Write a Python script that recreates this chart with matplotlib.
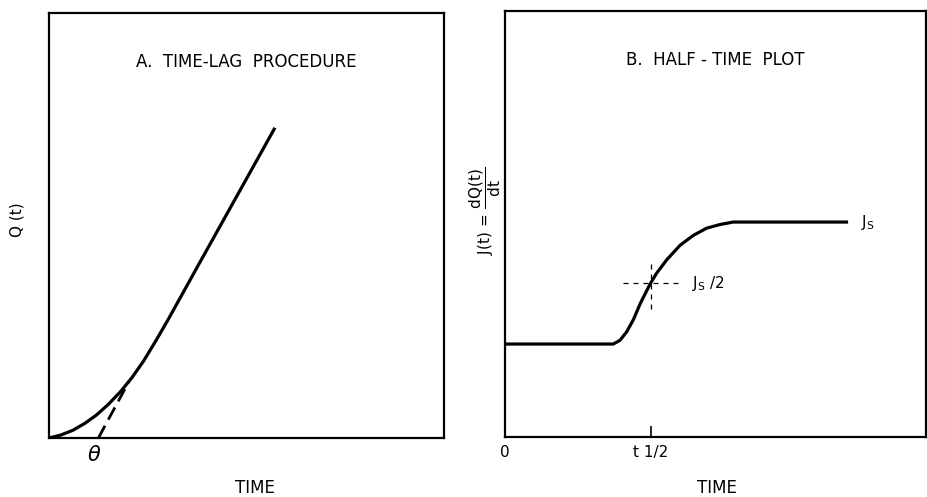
import matplotlib.pyplot as plt

plt.rcParams['font.family'] = 'DejaVu Sans'
plt.rcParams['mathtext.fontset'] = 'dejavusans'

# A. time-lag: cumulative amount Q(t) against time
lag_t = [0.0, 0.3, 0.6, 0.9, 1.2, 1.5, 1.8, 2.1, 2.4, 2.7, 3.0, 3.8, 4.7, 5.72]
lag_q = [0.0, 0.07, 0.18, 0.34, 0.54, 0.79, 1.08, 1.42, 1.82, 2.28, 2.76, 4.10, 5.60, 7.30]
theta = 1.25
tangent_t = [theta, 2.03]
tangent_q = [0.0, 1.34]

# B. half-time: flux J(t) against time, baseline 0, steady state Js = 1
flux_t = [0.0, 2.57, 2.73, 2.89, 3.05, 3.21, 3.37, 3.46, 3.60, 3.84, 4.16, 4.47, 4.79, 5.11, 5.42, 8.15]
flux_j = [0.0, 0.0, 0.03, 0.10, 0.20, 0.33, 0.44, 0.50, 0.58, 0.69, 0.81, 0.89, 0.95, 0.98, 1.0, 1.0]
js = 1.0
t_half = 3.46

fig = plt.figure(figsize=(9.27, 4.97), dpi=100)
W, H = 927, 497


def px_axes(left, top, right, bottom):
    return fig.add_axes([left / W, 1 - bottom / H, (right - left) / W, (bottom - top) / H])


def style(ax):
    for s in ax.spines.values():
        s.set_linewidth(1.6)
    ax.set_xticks([])
    ax.set_yticks([])


# ---- panel A
axA = px_axes(49, 13, 444, 438)
style(axA)
axA.set_xlim(0, 10)
axA.set_ylim(0, 10)
axA.plot(lag_t, lag_q, color='black', lw=2.3, solid_capstyle='butt', solid_joinstyle='round')
axA.plot(tangent_t, tangent_q, color='black', lw=2.0, dashes=(5, 2.5))
axA.text(5.0, 8.85, 'A.  TIME-LAG  PROCEDURE', ha='center', va='center', fontsize=12)
axA.text(theta - 0.1, -0.4, r'$\theta$', ha='center', va='center', fontsize=15,
         clip_on=False)
fig.text(17 / W, 1 - 220 / H, 'Q (t)', rotation=90, ha='center', va='center', fontsize=11)
fig.text(255 / W, 1 - 488 / H, 'TIME', ha='center', va='center', fontsize=12)

# ---- panel B
axB = px_axes(505, 11, 926, 437)
style(axB)
axB.set_xlim(0, 10)
axB.set_ylim(-0.762, 2.73)
axB.plot(flux_t, flux_j, color='black', lw=2.3, solid_capstyle='butt', solid_joinstyle='round')
axB.plot([2.81, 4.12], [js / 2, js / 2], color='black', lw=0.9, dashes=(4, 4))
axB.plot([t_half, t_half], [0.29, 0.675], color='black', lw=0.9, dashes=(4, 4))
axB.set_xticks([0, t_half])
axB.set_xticklabels(['0', 't 1/2'], fontsize=11)
axB.tick_params(axis='x', direction='in', length=8, width=1.2, pad=6)
axB.xaxis.get_majorticklines()[0].set_visible(False)
axB.text(5.0, 2.33, 'B.  HALF - TIME  PLOT', ha='center', va='center', fontsize=12)
axB.text(8.45, js, r'$\mathrm{J_S}$', ha='left', va='center', fontsize=11)
axB.text(4.45, js / 2, r'$\mathrm{J_S\ /2}$', ha='left', va='center', fontsize=11)
fig.text(485 / W, 1 - 211 / H, r'$\mathrm{J(t)\,=\,\dfrac{dQ(t)}{dt}}$', rotation=90,
         ha='center', va='center', fontsize=11)
fig.text(717 / W, 1 - 488 / H, 'TIME', ha='center', va='center', fontsize=12)

fig.savefig('out.png', dpi=100, facecolor='white')
